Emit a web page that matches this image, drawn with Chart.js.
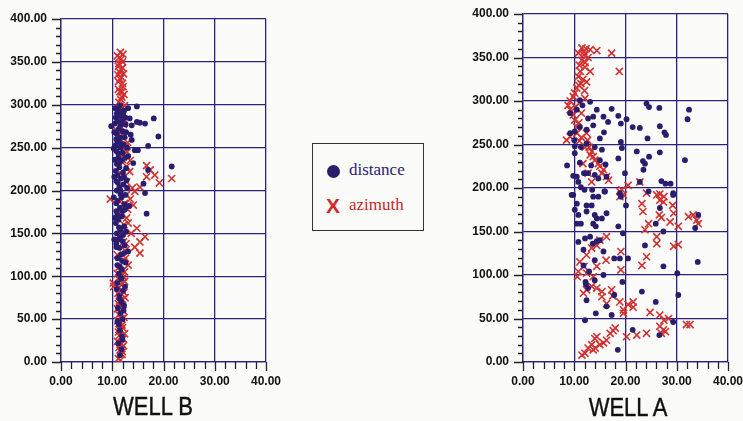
<!DOCTYPE html>
<html>
<head>
<meta charset="utf-8">
<script src="https://cdn.jsdelivr.net/npm/chart.js@4.4.1/dist/chart.umd.min.js"></script>
<style>
  body { margin: 0; background: #fbfbfa; width: 743px; height: 421px; overflow: hidden; position: relative; font-family: Arial, "Liberation Sans", sans-serif; }
  .box { position: absolute; }
  .title { position: absolute; font-size: 25px; color: #111; transform: scaleX(0.88); transform-origin: center; white-space: nowrap; text-align: center; width: 160px; -webkit-text-stroke: 0.4px #111; }
  #legend { position: absolute; left: 312px; top: 143px; width: 110px; height: 86px; border: 1.5px solid #333; }
  .lg { position: absolute; font-family: "Liberation Serif", "DejaVu Serif", serif; font-size: 17px; }
  .dot { position: absolute; width: 13px; height: 13px; border-radius: 50%; background: #2b1d6e; }
</style>
</head>
<body>
<div class="box" style="left:0;top:0;width:290px;height:400px"><canvas id="wellB" width="290" height="400"></canvas></div>
<div class="box" style="left:460px;top:0;width:283px;height:400px"><canvas id="wellA" width="283" height="400"></canvas></div>
<div class="title" style="left:73px;top:392px">WELL B</div>
<div class="title" style="left:548px;top:393px">WELL A</div>
<div id="legend">
  <div class="dot" style="left:14px;top:21px"></div>
  <div class="lg" style="left:36px;top:16px;color:#2b1d6e">distance</div>
  <div class="lg" style="left:13px;top:50px;color:#d22a2a;font-family:Arial,sans-serif;font-weight:bold;font-size:21px">X</div>
  <div class="lg" style="left:36px;top:51px;color:#c62828">azimuth</div>
</div>
<script>
// ---- axis ticks ----
const xTicks = [0, 10, 20, 30, 40];
const yTicks = [0, 50, 100, 150, 200, 250, 300, 350, 400];

// ---- WELL B ----
const wellBDistance = [
  [11.5,8],[11.8,15],[11.2,22],[12.0,26],[11.9,30],[11.5,37],[11.3,44],[11.0,47],[12.0,50],[11.6,57],
  [12.2,60],[11.1,63],[11.8,70],[11.4,74],[11.4,77],[12.1,83],[10.9,85],[12.5,88],[11.0,92],[11.7,97],
  [11.3,103],[11.9,108],[11.5,111],[12.6,116],[11.9,118],[11.0,121],[11.7,125],[13.1,129],[11.4,133],[10.8,138],
  [12.0,141],[11.5,145],[12.1,148],[10.9,150],[11.6,154],[11.3,157],[12.3,158],[10.7,162],[11.2,166],[11.9,170],
  [16.7,173],[10.8,176],[12.0,176],[11.5,180],[12.4,184],[11.0,188],[11.8,192],[12.6,195],[16.4,197],[10.9,200],
  [11.6,200],[11.4,204],[12.2,207],[16.1,208],[10.8,211],[12.8,212],[11.7,214],[11.0,218],[12.1,221],[17.0,224],
  [11.4,227],[21.6,228],[10.9,231],[14.1,232],[11.8,235],[12.5,238],[11.2,238],[13.1,240],[11.2,243],[10.8,246],
  [14.4,247],[15.0,247],[11.6,250],[17.0,252],[12.2,254],[11.0,257],[13.8,259],[11.5,262],[12.4,262],[19.0,263],
  [10.9,266],[12.0,269],[11.3,272],[9.8,275],[13.8,276],[16.4,278],[15.4,279],[14.8,280],[11.0,281],[11.9,281],
  [13.4,284],[18.1,284],[11.7,287],[10.9,290],[12.3,293],[13.1,296],[10.6,296],[14.8,298],[11.5,299],
  [10.8,134],[12.4,136],[11.2,143],[12.7,152],[11.0,172],[12.5,178],[10.8,185],[11.6,196],[12.9,203],[11.1,209],
  [12.3,216],[10.7,223],[12.7,226],[11.5,233],[12.0,244],[10.7,253],[12.9,250],[11.4,256],[10.8,260],[12.7,268],
  [11.6,276],[12.6,277],[10.7,285],[12.1,289],[11.3,293],[12.6,285],[11.0,113],[12.3,127],[11.8,98],[12.3,66],
  [10.4,143],[10.5,168],[10.3,192],[10.4,216],[10.5,236],[10.3,249],[10.4,268],[10.5,278],[13.3,182],[13.6,265]
];
const wellBAzimuth = [
  [11.2,4],[11.9,9],[11.5,14],[12.2,19],[11.0,24],[11.7,29],[12.4,33],[11.3,38],[11.9,43],[11.1,48],
  [12.3,52],[11.6,57],[11.0,62],[12.0,66],[11.4,71],[12.5,75],[11.1,80],[11.8,84],[10.3,88],[10.2,92],
  [11.5,95],[12.2,99],[11.0,103],[11.5,107],[13.1,113],[12.2,117],[12.6,121],[11.0,125],[15.4,127],[12.5,130],
  [14.4,134],[15.4,140],[12.2,140],[16.4,146],[11.8,150],[14.8,156],[12.3,160],[13.1,162],[12.8,168],[11.9,173],
  [13.0,178],[14.1,183],[11.5,187],[9.6,190],[13.5,190],[12.8,195],[14.4,199],[13.9,203],[15.4,204],[12.8,210],
  [19.2,209],[21.6,214],[16.7,216],[18.3,218],[11.6,220],[17.4,224],[12.8,228],[16.7,229],[13.5,235],[12.2,242],
  [12.9,245],[12.6,251],[11.8,258],[12.3,265],[10.9,270],[11.8,274],[12.4,282],[11.6,289],[12.0,296],[11.3,303],
  [11.9,309],[11.5,315],[11.9,315],[12.1,321],[11.2,327],[11.8,332],[11.1,335],[11.4,338],[12.0,343],[11.3,348],
  [11.7,353],[11.0,357],[12.1,359],[11.6,361],
  [11.6,2],[12.0,12],[11.3,17],[11.8,21],[12.1,27],[11.4,31],[11.2,35],[12.0,40],[11.6,45],[11.8,50],
  [11.3,55],[12.1,60],[11.7,64],[11.2,68],[11.9,73],[11.5,77],[12.3,81],[11.2,86],[11.8,90],[12.4,94],
  [11.3,98],[11.9,101],[12.4,105],[11.2,110],[12.7,138],[13.7,150],[12.4,185],[13.4,222],[12.0,236],[13.0,256],
  [11.5,263],[12.2,277],[11.4,285],[12.4,299],[11.7,306],[12.3,312],[11.2,318],[12.0,325],[11.5,330],[12.2,336],
  [11.7,341],[11.2,345],[12.0,350],[11.4,355]
];

// ---- WELL A ----
const wellADistance = [
  [13.1,299],[11.6,295],[9.2,286],[14.4,290],[13.7,282],[17.3,291],[18.6,283],[19.1,274],[20.2,279],[21.4,270],
  [22.8,269],[24.1,297],[24.6,293],[26.6,292],[26.7,271],[27.6,264],[27.9,261],[32.4,290],[32.1,279],[31.6,232],
  [24.3,257],[22.2,242],[24.6,236],[26.7,241],[23.4,231],[23.8,228],[23.5,221],[19.1,253],[19.3,246],[18.6,234],
  [19.9,217],[22.8,207],[27.0,208],[27.8,205],[28.8,205],[24.5,196],[29.3,194],[15.9,196],[16.1,227],[16.3,213],
  [15.0,232],[15.4,244],[14.0,247],[15.8,264],[15.0,257],[16.6,276],[15.7,282],[13.7,272],[12.4,267],[11.1,270],
  [10.1,265],[9.2,263],[10.0,255],[10.1,248],[11.3,247],[12.4,251],[10.1,240],[8.6,226],[11.1,229],[13.3,226],
  [12.7,217],[9.8,214],[10.5,213],[10.8,207],[11.9,217],[14.0,215],[14.7,211],[11.3,201],[12.0,198],[13.5,198],
  [9.5,192],[14.7,190],[18.9,194],[12.7,280],[10.5,290],[11.1,301],
  [9.8,192],[10.5,182],[10.1,175],[10.8,169],[10.5,159],[11.3,159],[12.4,180],[13.4,180],[12.4,173],[13.7,190],
  [14.0,169],[14.4,165],[15.4,165],[16.3,171],[13.7,159],[14.2,156],[16.0,196],[19.1,190],[20.1,180],[18.6,156],
  [19.5,148],[10.8,138],[11.8,129],[12.1,142],[13.1,144],[13.6,136],[14.4,139],[15.0,140],[15.7,127],[14.0,117],
  [11.8,111],[12.9,104],[12.2,92],[12.3,89],[12.7,85],[14.0,94],[15.7,100],[12.4,71],[16.3,64],[17.3,54],
  [14.2,56],[12.1,48],[17.8,119],[18.9,119],[20.5,119],[19.4,92],[17.8,77],[23.8,134],[25.9,159],[27.4,150],
  [26.7,177],[29.3,192],[23.2,81],[25.9,69],[27.4,110],[30.1,102],[30.3,77],[29.3,46],[26.6,31],[21.4,37],
  [18.5,14],[34.1,115],[33.6,154],[34.2,169]
];
const wellAAzimuth = [
  [11.5,361],[12.3,360],[13.1,359],[14.4,358],[10.8,355],[11.9,353],[11.5,347],[12.1,344],[12.1,339],[13.1,334],
  [11.2,334],[10.8,328],[12.4,322],[11.3,320],[10.5,315],[10.1,309],[9.8,305],[9.2,300],[12.1,303],[17.3,355],
  [18.8,334],[8.8,295],[9.2,290],[9.8,284],[10.1,278],[10.5,270],[9.2,259],[8.5,255],[10.5,263],[11.0,254],
  [12.4,263],[12.1,247],[12.9,247],[13.4,242],[13.7,236],[14.0,232],[14.7,228],[15.0,225],[15.7,221],[15.4,217],
  [16.3,213],[16.7,209],[12.7,217],[13.4,207],[11.7,228],[19.3,198],[20.5,203],[22.8,207],[24.1,194],[26.7,193],
  [27.5,190],[18.9,190],[18.9,196],[19.6,192],[23.2,182],[23.4,173],[24.5,159],[23.8,152],[26.1,192],[26.7,186],
  [27.4,184],[26.6,169],[27.0,166],[29.2,180],[29.4,171],[28.7,161],[30.3,156],[29.4,133],[30.3,135],[26.1,144],
  [26.1,136],[24.1,121],[23.2,111],[32.3,167],[33.2,169],[34.2,159],[33.9,163],
  [16.3,144],[15.0,140],[14.4,134],[13.4,131],[12.4,123],[11.1,115],[11.9,110],[10.8,104],[10.6,98],[12.4,102],
  [13.7,98],[13.4,87],[14.4,85],[15.4,81],[15.4,75],[16.3,67],[17.3,83],[17.5,76],[11.8,79],[12.4,83],
  [14.4,110],[16.2,117],[19.1,127],[19.1,106],[18.9,69],[19.6,60],[19.6,56],[20.5,66],[21.5,69],[21.5,63],
  [20.2,29],[22.2,31],[24.1,33],[24.8,57],[26.7,54],[27.5,48],[28.4,50],[26.7,41],[27.4,37],[27.0,33],
  [27.8,35],[31.9,43],[32.6,43],
  [11.5,8],[12.1,10],[12.7,16],[13.4,20],[13.7,14],[14.0,27],[14.4,29],[14.1,16],[15.0,20],[15.7,22],
  [16.3,25],[17.0,33],[18.0,39],[17.6,36],
  [11.9,357],[12.7,350],[11.0,341],[11.7,325],[10.9,318],[12.0,312],[11.0,298],[10.3,293],[11.4,286],[10.9,275],
  [11.4,258],[12.6,255],[13.1,238]
];

const NAVY = "#2b2380";
const DOT = "#2b1d6e";
const RED = "#d0302f";

// draws the small and large tick marks outside the plot box
const tickMarks = {
  id: "tickMarks",
  afterDraw(chart) {
    const { ctx, scales: { x, y } } = chart;
    ctx.save();
    ctx.strokeStyle = "#222";
    ctx.lineWidth = 1.3;
    ctx.beginPath();
    for (let v = 0; v <= 400; v += 10) {
      const py = Math.round(y.getPixelForValue(v)) + 0.5;
      const len = v % 50 === 0 ? 9 : 5;
      ctx.moveTo(x.left - len, py);
      ctx.lineTo(x.left, py);
    }
    for (let v = 0; v <= 40; v += 2) {
      const px = Math.round(x.getPixelForValue(v)) + 0.5;
      const len = v % 10 === 0 ? 9 : 7;
      ctx.moveTo(px, y.bottom);
      ctx.lineTo(px, y.bottom + len);
    }
    ctx.stroke();
    ctx.restore();
  }
};

function toPoints(arr) {
  return arr.map(p => ({ x: p[0], y: p[1] }));
}

function makeChart(id, distance, azimuth, pad) {
  return new Chart(document.getElementById(id), {
    type: "scatter",
    data: {
      datasets: [
        {
          label: "distance",
          data: toPoints(distance),
          pointStyle: "circle",
          pointRadius: 2.9,
          backgroundColor: DOT,
          borderColor: DOT,
          borderWidth: 0
        },
        {
          label: "azimuth",
          data: toPoints(azimuth),
          pointStyle: "crossRot",
          pointRadius: 5,
          borderColor: RED,
          backgroundColor: RED,
          borderWidth: 1.6
        }
      ]
    },
    plugins: [tickMarks],
    options: {
      responsive: false,
      animation: false,
      layout: { padding: { top: pad.top, right: pad.right, left: 0, bottom: 0 } },
      plugins: { legend: { display: false }, tooltip: { enabled: false } },
      scales: {
        x: {
          type: "linear",
          min: 0, max: 40,
          afterBuildTicks: s => { s.ticks = xTicks.map(v => ({ value: v })); },
          afterFit: s => { s.height = 400 - pad.bottom; s.paddingLeft = 0; s.paddingRight = 0; },
          grid: { color: NAVY, lineWidth: 1.3, drawTicks: false },
          border: { color: NAVY, width: 1.3 },
          ticks: {
            padding: 12,
            color: "#111",
            font: { family: "Arial, 'Liberation Sans'", size: 12, weight: "bold" },
            callback: v => v.toFixed(2)
          }
        },
        y: {
          type: "linear",
          min: 0, max: 400,
          afterBuildTicks: s => { s.ticks = yTicks.map(v => ({ value: v })); },
          afterFit: s => { s.width = pad.left; s.paddingTop = 0; s.paddingBottom = 0; },
          grid: { color: NAVY, lineWidth: 1.3, drawTicks: false },
          border: { color: NAVY, width: 1.3 },
          ticks: {
            padding: 14,
            color: "#111",
            font: { family: "Arial, 'Liberation Sans'", size: 12, weight: "bold" },
            callback: v => v.toFixed(2)
          }
        }
      }
    }
  });
}

// pad.bottom = y pixel of the x axis inside the canvas
makeChart("wellB", wellBDistance, wellBAzimuth, { top: 19, right: 24, left: 61, bottom: 362 });
makeChart("wellA", wellADistance, wellAAzimuth, { top: 14, right: 15, left: 63, bottom: 362 });
</script>
</body>
</html>
